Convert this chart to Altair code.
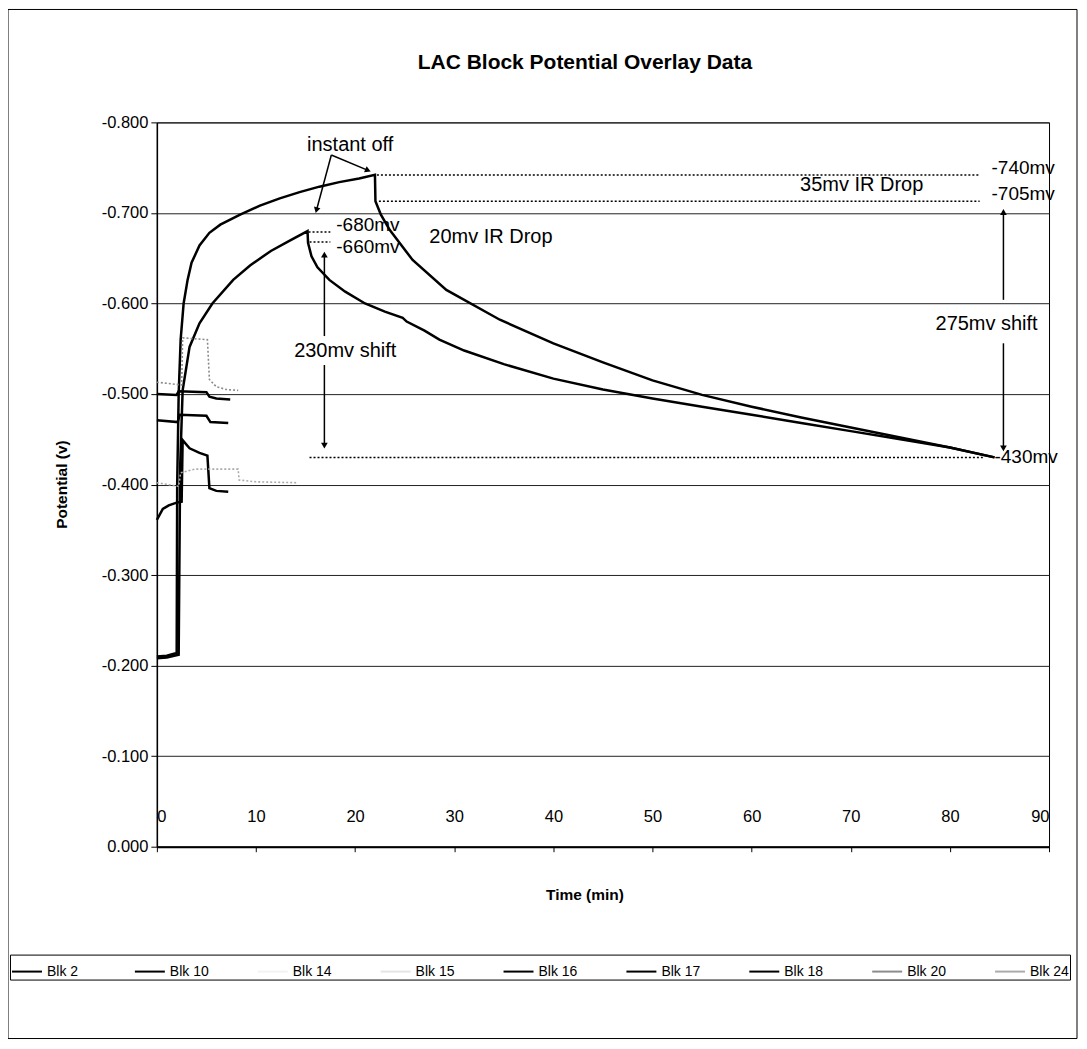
import altair as alt
import pandas as pd

FONT = "Liberation Sans"

# ---------------- data ----------------
series_names = ["Blk 2", "Blk 10", "Blk 14", "Blk 15", "Blk 16",
                "Blk 17", "Blk 18", "Blk 20", "Blk 24"]
series_colors = ["#000000", "#000000", "#f2f2f2", "#e4e4e4", "#000000",
                 "#000000", "#000000", "#8c8c8c", "#ababab"]

blk2_t = [0, 1.0, 2.0, 2.05, 2.2, 2.4, 2.7, 3.1, 3.5, 4.3,
          5.3, 6.4, 8.4, 10.4, 12.4, 14.4, 16.4, 18.4, 20.4, 22.0,
          22.05, 22.6, 23.5, 25.8, 29.2, 34.6, 40, 45, 50, 55,
          60, 65, 70, 75, 80, 84.5]
blk2_v = [-0.210, -0.211, -0.214, -0.400, -0.500, -0.560, -0.600, -0.626, -0.645, -0.664,
          -0.678, -0.687, -0.698, -0.708, -0.716, -0.723, -0.729, -0.734, -0.738, -0.742,
          -0.713, -0.698, -0.681, -0.648, -0.615, -0.582, -0.556, -0.535, -0.515, -0.499,
          -0.486, -0.474, -0.463, -0.452, -0.441, -0.430]

blk10_t = [0, 1.0, 2.2, 2.35, 2.6, 3.3, 4.3, 5.6, 7.7, 9.4,
           11.5, 13.5, 15.2, 15.25, 15.6, 16.2, 17.4, 19.0, 21.0, 23.0,
           24.8, 25.2, 27.0, 28.5, 31, 35, 40, 45, 50, 55,
           60, 65, 70, 75, 80, 84.5]
blk10_v = [-0.208, -0.209, -0.212, -0.420, -0.504, -0.552, -0.578, -0.600, -0.626, -0.642,
           -0.658, -0.670, -0.680, -0.667, -0.652, -0.640, -0.626, -0.613, -0.600, -0.591,
           -0.584, -0.580, -0.570, -0.560, -0.548, -0.533, -0.517, -0.505, -0.495, -0.486,
           -0.477, -0.468, -0.459, -0.450, -0.441, -0.430]

blk16_t = [0, 2.0, 2.2, 5.0, 5.3, 6.0, 7.4]
blk16_v = [-0.500, -0.499, -0.503, -0.502, -0.497, -0.495, -0.494]

blk17_t = [0, 2.1, 2.3, 5.0, 5.4, 7.2]
blk17_v = [-0.471, -0.469, -0.477, -0.476, -0.469, -0.468]

blk18_t = [0, 0.6, 1.2, 2.0, 2.5, 2.6, 3.3, 4.3, 5.1, 5.3, 6.0, 7.2]
blk18_v = [-0.361, -0.373, -0.377, -0.380, -0.381, -0.449, -0.440, -0.435, -0.432, -0.396, -0.393, -0.392]

blk20_t = [0, 2.5, 2.6, 5.1, 5.3, 6.0, 7.0, 8.2]
blk20_v = [-0.513, -0.510, -0.562, -0.560, -0.516, -0.508, -0.505, -0.504]

blk24_t = [0, 2.2, 2.4, 3.8, 8.2, 8.3, 10.0, 14.2]
blk24_v = [-0.402, -0.398, -0.413, -0.417, -0.417, -0.405, -0.403, -0.402]

x_ticks = [0, 10, 20, 30, 40, 50, 60, 70, 80, 90]
y_ticks = [-0.8, -0.7, -0.6, -0.5, -0.4, -0.3, -0.2, -0.1, 0.0]

# dotted reference levels
guide_v = [-0.742, -0.713, -0.679, -0.668, -0.430]
guide_t1 = [22.2, 22.4, 15.3, 15.4, 15.4]
guide_t2 = [83.0, 83.0, 17.5, 17.5, 83.5]

# annotation texts
center_text = ["instant off", "35mv IR Drop", "20mv IR Drop", "230mv shift", "275mv shift"]
center_t = [19.5, 71.1, 33.7, 19.0, 83.7]
center_v = [-0.775, -0.731, -0.673, -0.547, -0.577]

left_text = ["-740mv", "-705mv", "-680mv", "-660mv", "-430mv"]
left_t = [84.2, 84.2, 18.1, 18.1, 84.5]
left_v = [-0.750, -0.721, -0.687, -0.662, -0.430]

# arrow shafts
arrow_t1 = [17.6, 17.6, 16.9, 16.9, 85.4, 85.4]
arrow_v1 = [-0.764, -0.764, -0.654, -0.532, -0.701, -0.556]
arrow_t2 = [16.1, 21.3, 16.9, 16.9, 85.4, 85.4]
arrow_v2 = [-0.703, -0.747, -0.564, -0.443, -0.604, -0.440]

# ---------------- tables ----------------
series_data = [
    ("Blk 2", blk2_t, blk2_v), ("Blk 10", blk10_t, blk10_v),
    ("Blk 16", blk16_t, blk16_v), ("Blk 17", blk17_t, blk17_v),
    ("Blk 18", blk18_t, blk18_v), ("Blk 20", blk20_t, blk20_v),
    ("Blk 24", blk24_t, blk24_v),
]
rows = []
for name, ts, vs in series_data:
    for i, (t, v) in enumerate(zip(ts, vs)):
        rows.append({"series": name, "t": t, "v": v, "i": i})
df = pd.DataFrame(rows)

solid_series = ["Blk 2", "Blk 10", "Blk 16", "Blk 17", "Blk 18"]
dotted_series = ["Blk 20", "Blk 24"]

X = alt.X("t:Q", scale=alt.Scale(domain=[0, 90], nice=False, zero=False),
          axis=alt.Axis(values=x_ticks, format="d", title="Time (min)",
                        grid=False, tickSize=5, labelPadding=-43,
                        domainWidth=2, titleX=428, titleY=48,
                        titleAlign="center", titleBaseline="middle",
                        titleFontWeight="bold", titleFontSize=15.5))
Y = alt.Y("v:Q", scale=alt.Scale(domain=[-0.8, 0], nice=False, reverse=True),
          axis=alt.Axis(values=y_ticks, title="Potential (v)",
                        labelExpr="datum.value < 0 ? '-' + format(-datum.value, '.3f') : format(datum.value, '.3f')",
                        grid=True, gridColor="#222222", gridWidth=1,
                        tickSize=6, labelPadding=3, domainWidth=1.5,
                        titleX=-95, titleY=362, titleAlign="center",
                        titleBaseline="middle", titleFontWeight="bold",
                        titleFontSize=15.5))

color = alt.Color("series:N",
                  scale=alt.Scale(domain=series_names, range=series_colors),
                  sort=series_names,
                  legend=alt.Legend(title=None, orient="none", legendX=-147,
                                    legendY=833, direction="horizontal",
                                    columns=9, symbolType="stroke",
                                    symbolSize=900, symbolStrokeWidth=2,
                                    labelFontSize=14, labelFont=FONT,
                                    labelColor="black", labelOffset=4,
                                    strokeColor="black", fillColor="white",
                                    padding=1, columnPadding=45,
                                    gridAlign="all"))

base = alt.Chart(df)
solid = base.transform_filter(
    alt.FieldOneOfPredicate(field="series", oneOf=solid_series)
).mark_line(strokeWidth=2.5).encode(x=X, y=Y, color=color, order="i:Q")

dotted = base.transform_filter(
    alt.FieldOneOfPredicate(field="series", oneOf=dotted_series)
).mark_line(strokeWidth=1.6, strokeDash=[2, 2]).encode(x=X, y=Y, color=color, order="i:Q")

guides = alt.Chart(pd.DataFrame({"t": guide_t1, "t2": guide_t2, "v": guide_v})).mark_rule(
    color="black", strokeWidth=1.5, strokeDash=[2, 2]
).encode(x=X, x2="t2:Q", y=Y)

arrows = alt.Chart(pd.DataFrame({"t": arrow_t1, "t2": arrow_t2, "v": arrow_v1, "v2": arrow_v2})).mark_rule(
    color="black", strokeWidth=1.5
).encode(x=X, x2="t2:Q", y=Y, y2="v2:Q")


def head(t, v, shape, angle):
    return alt.Chart(pd.DataFrame({"t": [t], "v": [v]})).mark_point(
        shape=shape, angle=angle, size=45, filled=True, color="black", opacity=1
    ).encode(x=X, y=Y)


heads = [
    head(arrow_t2[0], arrow_v2[0], "triangle-down", 15),
    head(arrow_t2[1], arrow_v2[1], "triangle-right", 23),
    head(arrow_t1[2], arrow_v1[2], "triangle-up", 0),
    head(arrow_t2[3], arrow_v2[3], "triangle-down", 0),
    head(arrow_t1[4], arrow_v1[4], "triangle-up", 0),
    head(arrow_t2[5], arrow_v2[5], "triangle-down", 0),
]

texts_c = alt.Chart(pd.DataFrame({"t": center_t, "v": center_v, "label": center_text})).mark_text(
    align="center", baseline="middle", fontSize=20, font=FONT, color="black"
).encode(x=X, y=Y, text="label:N")

texts_l = alt.Chart(pd.DataFrame({"t": left_t, "v": left_v, "label": left_text})).mark_text(
    align="left", baseline="middle", fontSize=19, font=FONT, color="black"
).encode(x=X, y=Y, text="label:N")

frame = alt.Chart(pd.DataFrame({"k": [0]})).mark_rect(
    fill="transparent", stroke="black", strokeWidth=1
).encode(x=alt.value(-149), x2=alt.value(921), y=alt.value(-113), y2=alt.value(917))

chart = alt.layer(
    frame, solid, dotted, guides, arrows, *heads, texts_c, texts_l
).properties(
    width=893, height=725,
    title=alt.TitleParams("LAC Block Potential Overlay Data", fontSize=21,
                          fontWeight="bold", font=FONT, dx=-18, offset=0, dy=64,
                          anchor="middle", color="black"),
    autosize=alt.AutoSizeParams(type="none"),
    padding={"left": 149, "top": 114, "right": 30, "bottom": 196},
).configure_view(
    stroke="black", strokeWidth=1
).configure_axis(
    labelFont=FONT, labelFontSize=16.5, labelColor="black",
    titleFont=FONT, titleColor="black",
    domainColor="black", tickColor="black"
)

chart.save("out.html", embed_options={"renderer": "svg", "actions": False})
